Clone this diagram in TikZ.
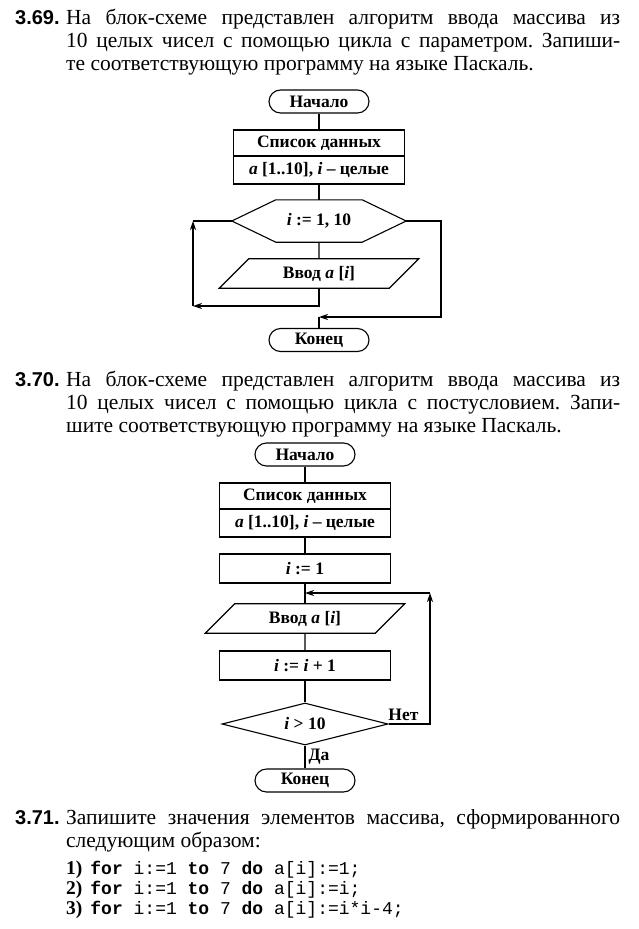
\documentclass[tikz,border=0pt]{standalone}
\usepackage{fontspec}
\setmainfont{Liberation Serif}
\setmonofont{Liberation Mono}
\newfontfamily\numfont{Liberation Sans}
\usetikzlibrary{shapes.geometric,arrows.meta}
\frenchspacing
\newcommand\bodysize{\fontsize{21.5}{24}\selectfont}
\newcommand\chartsize{\fontsize{17.5}{20}\selectfont\bfseries}
\newcommand\codeline[2]{{\fontsize{19.5}{19}\selectfont\textbf{#1)}}\hspace{8pt}{\fontsize{18}{19}\selectfont\texttt{#2}}}
\tikzset{
    term/.style={draw, rectangle, rounded corners=11.5pt, minimum width=100pt, minimum height=23pt, line width=1.1pt, inner sep=0pt, font=\chartsize},
    block/.style={draw, rectangle, minimum width=171pt, minimum height=27pt, line width=1.1pt, inner sep=0pt, font=\chartsize},
    hexa/.style={rectangle, minimum width=174pt, minimum height=42pt, inner sep=0pt, font=\chartsize},
    io/.style={draw, trapezium, trapezium left angle=45, trapezium right angle=135, minimum width=200pt, minimum height=29pt, line width=1.1pt, inner sep=0pt, font=\chartsize},
    cond/.style={draw, diamond, aspect=4, minimum width=166pt, minimum height=42pt, line width=1.1pt, inner sep=0pt, font=\chartsize},
    line/.style={line width=1.1pt},
    arr/.style={-{Stealth[length=9pt,width=6pt]}, line width=1.1pt},
    lbl/.style={inner sep=3pt, font=\chartsize},
    num/.style={anchor=base west, inner sep=0pt, font=\fontsize{20}{24}\selectfont\numfont\bfseries},
    txt/.style={anchor=base west, inner sep=0pt, font=\bodysize}
}

\begin{document}
\begin{tikzpicture}[x=1pt, y=-1pt]
        \useasboundingbox (0,0) rectangle (639,929);

        % --- 3.69 ---
        \node [num] (n369) at (15,24) {3.69.};
        \node [txt] (t369a) at (66,24) {\makebox[554pt][s]{На блок-схеме представлен алгоритм ввода массива из}};
        \node [txt] (t369b) at (66,47) {\makebox[554pt][s]{10 целых чисел с помощью цикла с параметром. Запиши-}};
        \node [txt] (t369c) at (66,70) {те соответствующую программу на языке Паскаль.};

        % --- First chart: loop with parameter ---
        \node [term] (start1) at (319,101.5) {Начало};
        \node [block, minimum height=26pt] (decl1a) at (319,143) {Список данных};
        \node [block, minimum height=28pt] (decl1b) at (319,170) {\textit{a} [1..10], \textit{i} – целые};
        \node [hexa] (loop1) at (319,221) {\textit{i} := 1, 10};
        \draw [line] (loop1.west) -- ([xshift=44pt]loop1.north west) -- ([xshift=-44pt]loop1.north east)
            -- (loop1.east) -- ([xshift=-44pt]loop1.south east) -- ([xshift=44pt]loop1.south west) -- cycle;
        \node [io] (in1) at (319,273.5) {Ввод \textit{a} [\textit{i}]};
        \node [term] (end1) at (319,340) {Конец};

        \coordinate (lc1) at (193,306);
        \coordinate (lc2) at (193,221);
        \coordinate (rc1) at (441,317);
        \coordinate (jn1) at (319,317);

        \draw [line] (start1) -- (decl1a);
        \draw [line] (decl1b) -- (loop1);
        \draw [line] (loop1) -- (in1);
        \draw [arr] (in1.south) |- (lc1);
        \draw [arr] (lc1) -- (lc2);
        \draw [line] (lc2) -- (loop1.west);
        \draw [arr] (loop1.east) -| (rc1) -- (jn1);
        \draw [line] (jn1) -- (end1);

        % --- 3.70 ---
        \node [num] (n370) at (15,386) {3.70.};
        \node [txt] (t370a) at (66,386) {\makebox[554pt][s]{На блок-схеме представлен алгоритм ввода массива из}};
        \node [txt] (t370b) at (66,409) {\makebox[554pt][s]{10 целых чисел с помощью цикла с постусловием. Запи-}};
        \node [txt] (t370c) at (66,432) {шите соответствующую программу на языке Паскаль.};

        % --- Second chart: loop with postcondition ---
        \node [term] (start2) at (305,454.5) {Начало};
        \node [block, minimum height=26pt] (decl2a) at (305,496) {Список данных};
        \node [block, minimum height=28pt] (decl2b) at (305,523) {\textit{a} [1..10], \textit{i} – целые};
        \node [block, minimum height=29pt] (init2) at (305,568.5) {\textit{i} := 1};
        \node [io] (in2) at (305,618.5) {Ввод \textit{a} [\textit{i}]};
        \node [block, minimum height=29pt] (inc2) at (305,665.5) {\textit{i} := \textit{i} + 1};
        \node [cond] (cond2) at (305,724) {\textit{i} > 10};
        \node [term] (end2) at (305,780.5) {Конец};

        \coordinate (jn2) at (305,593);
        \coordinate (rc2) at (430,593);

        \draw [line] (start2) -- (decl2a);
        \draw [line] (decl2b) -- (init2);
        \draw [line] (init2) -- (in2);
        \draw [line] (in2) -- (inc2);
        \draw [line] (inc2) -- (cond2);
        \draw [line] (cond2) -- node [lbl, right] (yes2) {Да} (end2);
        \draw [arr] (cond2.east) -| node [lbl, pos=0.18, above] (no2) {Нет} (rc2);
        \draw [arr] (rc2) -- (jn2);

        % --- 3.71 ---
        \node [num] (n371) at (15,824) {3.71.};
        \node [txt] (t371a) at (66,824) {\makebox[554pt][s]{Запишите значения элементов массива, сформированного}};
        \node [txt] (t371b) at (66,847) {следующим образом:};
        \node [txt] (code1) at (66,874) {\codeline{1}{\textbf{for} i:=1 \textbf{to} 7 \textbf{do} a[i]:=1;}};
        \node [txt] (code2) at (66,894) {\codeline{2}{\textbf{for} i:=1 \textbf{to} 7 \textbf{do} a[i]:=i;}};
        \node [txt] (code3) at (66,914) {\codeline{3}{\textbf{for} i:=1 \textbf{to} 7 \textbf{do} a[i]:=i*i-4;}};
    \end{tikzpicture}
\end{document}
